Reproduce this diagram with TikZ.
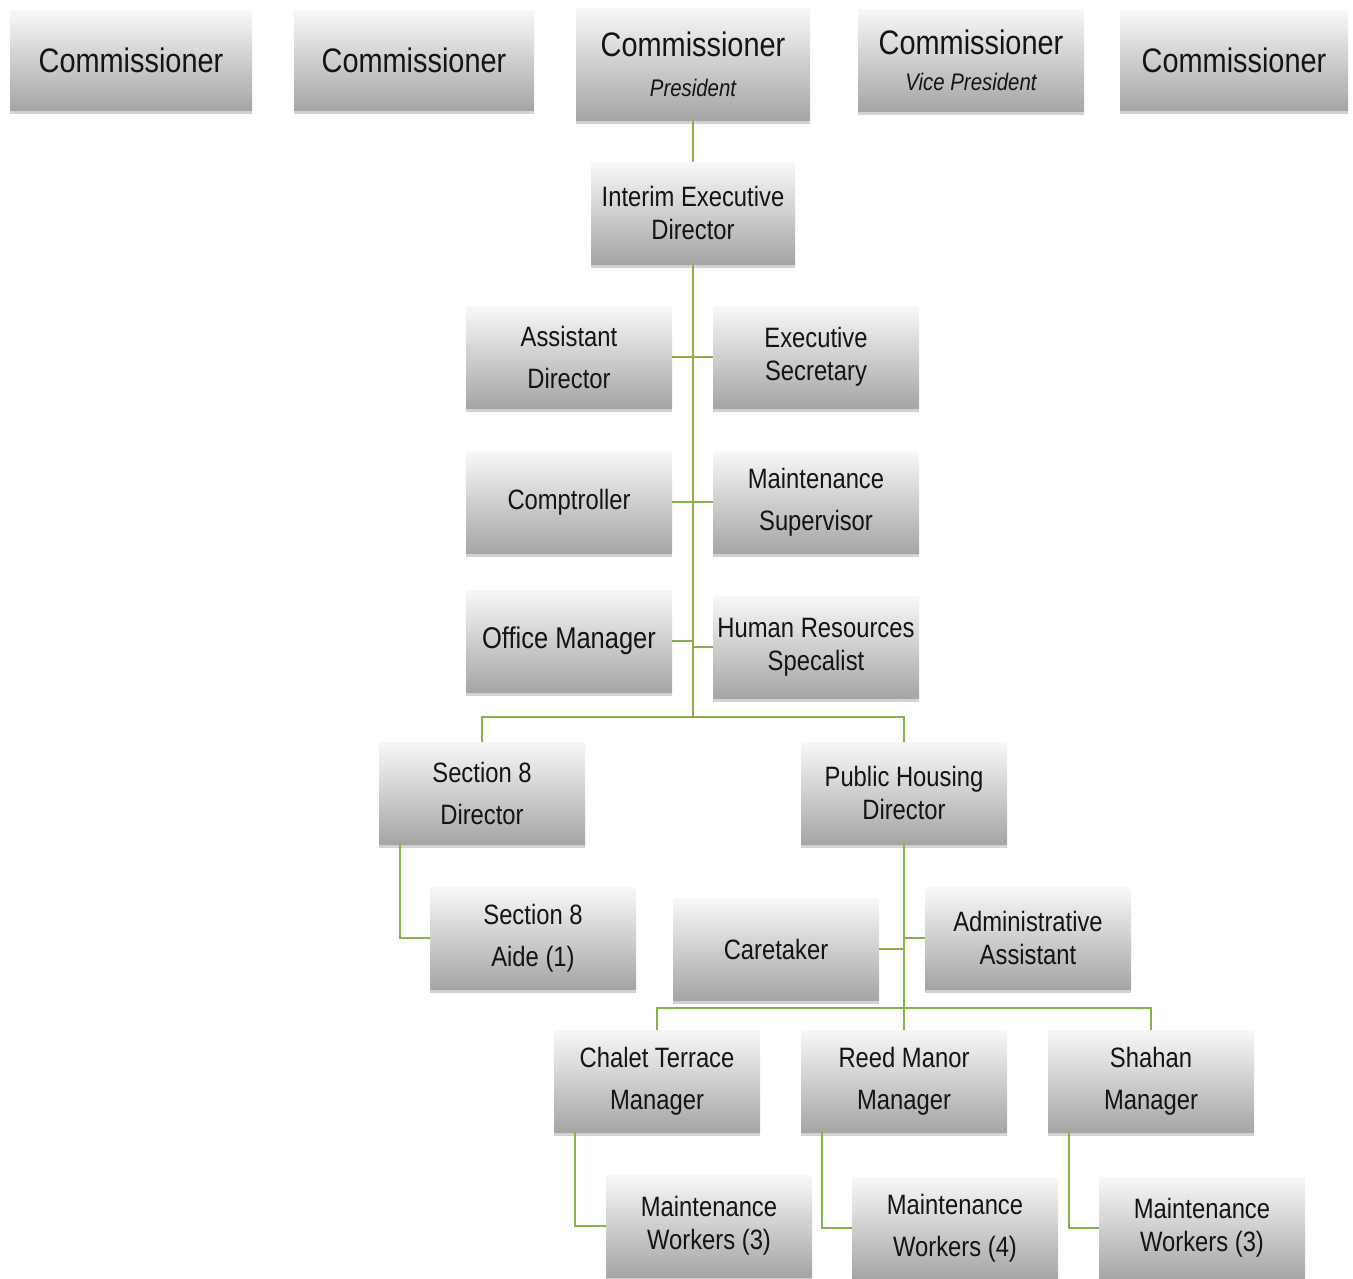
\documentclass[tikz,border=0pt]{standalone}
\usepackage{fontspec}
\setmainfont[FakeStretch=0.85]{Liberation Sans}
\usetikzlibrary{shadows}
\definecolor{boxtop}{RGB}{248,248,248}
\definecolor{boxbot}{RGB}{165,165,165}
\definecolor{link}{RGB}{137,176,72}
\tikzset{
	unit/.style={top color=boxtop, bottom color=boxbot, align=center, inner sep=0pt,
		minimum width=206pt, minimum height=102pt, text=black!92,
		font=\fontsize{28}{33}\selectfont,
		drop shadow={opacity=0.18, shadow xshift=0pt, shadow yshift=-4pt, fill=black}},
	top/.style={unit, minimum height=100pt, font=\fontsize{34}{38}\selectfont},
	wire/.style={draw=link, line width=2.5pt}
}
\begin{document}
\begin{tikzpicture}[x=1pt, y=-1pt]
	\useasboundingbox (0,0) rectangle (1353,1278);
%	board
	\node[top, minimum width=242pt] (com1) at (131,60) {Commissioner};
	\node[top, minimum width=240pt] (com2) at (414,60) {Commissioner};
	\node[top, minimum width=234pt, minimum height=112pt] (pres) at (693,64)
		{Commissioner\\[2pt]{\itshape\fontsize{24}{28}\selectfont President}};
	\node[top, minimum width=226pt, minimum height=102pt] (vpres) at (971,60)
		{Commissioner\\[-2pt]{\itshape\fontsize{24}{28}\selectfont Vice President}};
	\node[top, minimum width=228pt] (com5) at (1234,60) {Commissioner};

%	office
	\node[unit, minimum width=204pt] (ied) at (693,213) {Interim Executive\\Director};
	\node[unit] (asst) at (569,357) {Assistant\\[9pt]Director};
	\node[unit] (esec) at (816,357) {Executive\\Secretary};
	\node[unit] (comp) at (569,502) {Comptroller};
	\node[unit] (msup) at (816,502) {Maintenance\\[9pt]Supervisor};
	\node[unit, font=\fontsize{30}{36}\selectfont] (offm) at (569,641) {Office Manager};
	\node[unit] (hrs) at (816,647) {Human Resources\\Specalist};

%	programs
	\node[unit] (s8d) at (482,793) {Section 8\\[9pt]Director};
	\node[unit] (phd) at (904,793) {Public Housing\\Director};
	\node[unit] (s8a) at (533,938) {Section 8\\[9pt]Aide (1)};
	\node[unit] (care) at (776,949) {Caretaker};
	\node[unit] (adma) at (1028,938) {Administrative\\Assistant};

%	sites
	\node[unit] (chal) at (657,1081) {Chalet Terrace\\[9pt]Manager};
	\node[unit] (reed) at (904,1081) {Reed Manor\\[9pt]Manager};
	\node[unit] (shah) at (1151,1081) {Shahan\\[9pt]Manager};
	\node[unit] (mw1) at (709,1226) {Maintenance\\Workers (3)};
	\node[unit] (mw2) at (955,1228) {Maintenance\\[9pt]Workers (4)};
	\node[unit] (mw3) at (1202,1228) {Maintenance\\Workers (3)};

	\coordinate (hub1) at (693,717);
	\coordinate (hub2) at (904,1008);

	\draw[wire] (pres.south) -- (ied.north);
	\draw[wire] (ied.south) -- (hub1);
	\draw[wire] (asst.east) -- (esec.west);
	\draw[wire] (comp.east) -- (msup.west);
	\draw[wire] (offm.east) -- (offm.east -| hub1);
	\draw[wire] (hrs.west) -- (hrs.west -| hub1);
	\draw[wire] (s8d.north) -- (s8d.north |- hub1) -- (phd.north |- hub1) -- (phd.north);
	\draw[wire] ([xshift=21pt]s8d.south west) |- (s8a.west);

	\draw[wire] (phd.south) -- (hub2) -- (reed.north);
	\draw[wire] (care.east) -- (care.east -| hub2);
	\draw[wire] (adma.west) -- (adma.west -| hub2);
	\draw[wire] (chal.north) -- (chal.north |- hub2) -- (shah.north |- hub2) -- (shah.north);
	\draw[wire] ([xshift=21pt]chal.south west) |- (mw1.west);
	\draw[wire] ([xshift=21pt]reed.south west) |- (mw2.west);
	\draw[wire] ([xshift=21pt]shah.south west) |- (mw3.west);
\end{tikzpicture}
\end{document}
